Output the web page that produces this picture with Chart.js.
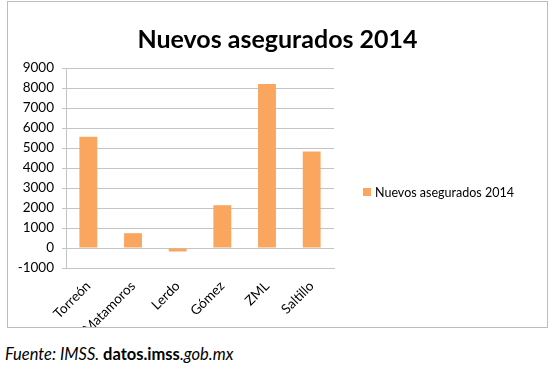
<!DOCTYPE html>
<html>
<head>
<meta charset="utf-8">
<script src="https://cdn.jsdelivr.net/npm/chart.js@4"></script>
<style>
  body { margin: 0; background: #fff; width: 556px; height: 375px; position: relative; overflow: hidden; }
  #box { position: absolute; left: 7px; top: 1px; width: 539px; height: 325px; border: 1px solid #bcbcbc; }
  #source { position: absolute; left: 5px; top: 344px; font-family: Lato, sans-serif; font-size: 16.5px; font-style: italic; color: #000; }
  #source b { font-style: normal; }
</style>
</head>
<body>
<div id="box"><canvas id="chart" width="539" height="325"></canvas></div>
<div id="source">Fuente: IMSS. <b>datos.imss</b>.gob.mx</div>
<script>
// --- Data ---
const categories = ['Torreón', 'Matamoros', 'Lerdo', 'Gómez', 'ZML', 'Saltillo'];
const values = [5560, 740, -175, 2140, 8200, 4830];
const seriesLabel = 'Nuevos asegurados 2014';
const chartTitle = 'Nuevos asegurados 2014';

const barColor = '#fba65e';
const gridColor = '#c4c4c4';

// title centred on the whole box, legend at a fixed spot (like the sheet)
const sheetText = {
    id: 'sheetText',
    afterDraw(chart) {
        const ctx = chart.ctx;
        const ds = chart.data.datasets[0];
        ctx.save();
        ctx.fillStyle = '#000';
        ctx.font = 'bold 25px Lato';
        ctx.textAlign = 'center';
        ctx.textBaseline = 'middle';
        ctx.fillText(chartTitle, chart.width / 2, 38);

        ctx.textAlign = 'left';
        ctx.fillStyle = ds.backgroundColor;
        ctx.fillRect(355, 186, 8, 8);
        ctx.fillStyle = '#000';
        ctx.font = '12.5px Lato';
        ctx.fillText(ds.label, 367, 191);
        ctx.restore();
    }
};

new Chart(document.getElementById('chart'), {
    type: 'bar',
    data: {
        labels: categories,
        datasets: [{
            label: seriesLabel,
            data: values,
            backgroundColor: barColor,
            barPercentage: 0.4,
            categoryPercentage: 1
        }]
    },
    options: {
        responsive: false,
        animation: false,
        layout: { padding: { left: 0, right: 213, top: 66, bottom: 0 } },
        plugins: {
            legend: { display: false },
            tooltip: { enabled: false },
            title: { display: false }
        },
        scales: {
            x: {
                grid: { display: false },
                border: { color: gridColor },
                ticks: {
                    color: '#000',
                    font: { family: 'Lato', size: 13.5 },
                    minRotation: 45,
                    maxRotation: 45,
                    padding: 2
                },
                afterFit(scale) { scale.height = 59; }
            },
            y: {
                min: -1000,
                max: 9000,
                ticks: {
                    stepSize: 1000,
                    color: '#000',
                    font: { family: 'Lato', size: 13.5 },
                    padding: 8,
                    callback: v => String(v)
                },
                grid: { color: gridColor, tickLength: 4 },
                border: { color: gridColor },
                afterFit(scale) { scale.width = 58; }
            }
        }
    },
    plugins: [sheetText]
});
</script>
</body>
</html>
